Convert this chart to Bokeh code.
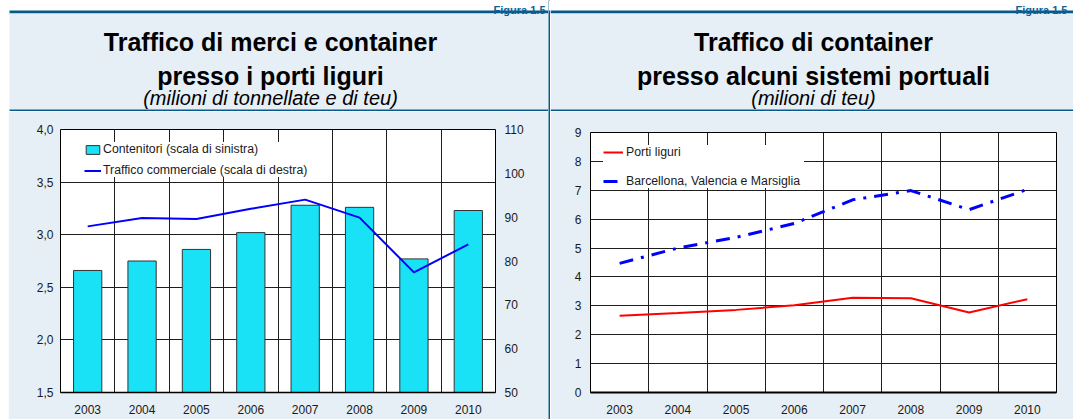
from bokeh.plotting import figure
from bokeh.layouts import row, column
from bokeh.models import (Range1d, LinearAxis, FixedTicker, CustomJSTickFormatter,
                          Legend, LegendItem, Spacer)
from bokeh.embed import file_html
from bokeh.resources import INLINE
from bokeh.core.properties import value

# ---------------- data ----------------
years = [2003, 2004, 2005, 2006, 2007, 2008, 2009, 2010]
year_labels = ["2003", "2004", "2005", "2006", "2007", "2008", "2009", "2010"]

contenitori = [2.66, 2.75, 2.86, 3.02, 3.28, 3.26, 2.77, 3.23]          # left scale
traffico_commerciale = [87.9, 89.8, 89.6, 91.9, 94.0, 89.9, 77.4, 83.8]  # right scale

porti_liguri = [2.66, 2.75, 2.86, 3.02, 3.28, 3.26, 2.77, 3.23]
barcellona_valencia_marsiglia = [4.47, 5.00, 5.37, 5.85, 6.67, 6.99, 6.33, 7.03]

left_ticks = [1.5, 2.0, 2.5, 3.0, 3.5, 4.0]
left_tick_labels = ["1,5", "2,0", "2,5", "3,0", "3,5", "4,0"]
right_ticks = [50, 60, 70, 80, 90, 100, 110]
right_tick_labels = ["50", "60", "70", "80", "90", "100", "110"]
r_ticks = [0, 1, 2, 3, 4, 5, 6, 7, 8, 9]
r_tick_labels = ["0", "1", "2", "3", "4", "5", "6", "7", "8", "9"]

figura = "Figura 1.5"
title_left = ["Traffico di merci e container", "presso i porti liguri"]
sub_left = "(milioni di tonnellate e di teu)"
title_right = ["Traffico di container", "presso alcuni sistemi portuali"]
sub_right = "(milioni di teu)"

leg_left = ["Contenitori (scala di sinistra)", "Traffico commerciale (scala di destra)"]
leg_right = ["Porti liguri", "Barcellona, Valencia e Marsiglia"]

# ---------------- style ----------------
FONT = "Liberation Sans"
LIGHT = "#e6eef6"
DARK = "#07598a"
FIGC = "#0f6192"
CYAN = "#19e1f6"
GRID = "#1e1e1e"
TXT = "#1a1a1a"

LW, RW = 540, 523
HEAD_H, CHART_H = 111, 308


def no_align(p):
    if "frame_align" in p.properties():
        p.frame_align = False


def fmt(vals, labs):
    return CustomJSTickFormatter(args=dict(vals=list(vals), labs=list(labs)), code="""
        for (let i = 0; i < vals.length; i++) {
            if (Math.abs(vals[i] - tick) < 1e-9) { return labs[i]; }
        }
        return '';
    """)


def header(width, lines, sub, cx, x0, fig_x, fig_align):
    h = figure(width=width, height=HEAD_H, x_range=Range1d(0, width), y_range=Range1d(HEAD_H, 0),
               min_border=0, toolbar_location=None, output_backend="svg",
               x_axis_type=None, y_axis_type=None, outline_line_color=None)
    no_align(h)
    h.background_fill_color = "white"
    h.border_fill_color = "white"
    h.grid.visible = False
    h.quad(left=x0, right=width, top=10, bottom=13, fill_color=DARK, line_color=None)
    h.quad(left=x0, right=width, top=13, bottom=109, fill_color=LIGHT, line_color=None)
    h.quad(left=x0, right=width, top=109, bottom=111, fill_color=DARK, line_color=None)
    h.text(x=[fig_x], y=[9], text=[figura], text_font=value(FONT), text_font_style="bold",
           text_font_size="11px", text_align=fig_align, text_baseline="alphabetic", text_color=FIGC)
    h.text(x=[cx, cx], y=[41, 75], text=lines, text_font=value(FONT), text_font_style="bold",
           text_font_size="25px", text_align="center", text_baseline="alphabetic", text_color="black")
    h.text(x=[cx], y=[97], text=[sub], text_font=value(FONT), text_font_style="italic",
           text_font_size="20px", text_align="center", text_baseline="alphabetic", text_color="black")
    return h


def style_chart(p):
    no_align(p)
    p.background_fill_color = "white"
    p.border_fill_color = LIGHT
    p.outline_line_color = "black"
    p.outline_line_width = 1
    for ax in p.axis:
        ax.major_tick_in = 0
        ax.major_tick_out = 0
        ax.minor_tick_in = 0
        ax.minor_tick_out = 0
        ax.major_label_text_font = FONT
        ax.major_label_text_font_size = "12px"
        ax.major_label_text_color = TXT
    for g in p.grid:
        g.grid_line_color = GRID
        g.grid_line_width = 1


# ---------------- left chart ----------------
lc = figure(width=LW, height=CHART_H, x_range=Range1d(2002.5, 2010.5), y_range=Range1d(1.5, 4.0),
            min_border_left=52, min_border_right=53, min_border_top=18, min_border_bottom=27,
            toolbar_location=None, output_backend="svg")
lc.extra_y_ranges = {"right": Range1d(50, 110)}
rax = LinearAxis(y_range_name="right", ticker=FixedTicker(ticks=right_ticks),
                 formatter=fmt(right_ticks, right_tick_labels))
lc.add_layout(rax, "right")
lc.xaxis.ticker = FixedTicker(ticks=years)
lc.xaxis.formatter = fmt(years, year_labels)
lc.yaxis[0].ticker = FixedTicker(ticks=left_ticks)
lc.yaxis[0].formatter = fmt(left_ticks, left_tick_labels)
lc.xgrid.ticker = FixedTicker(ticks=[y + 0.5 for y in years[:-1]])
lc.ygrid.ticker = FixedTicker(ticks=left_ticks)
style_chart(lc)
lc.yaxis[0].major_label_standoff = 7
rax.major_label_standoff = 9
lc.xaxis.major_label_standoff = 12
lc.yaxis.axis_line_color = None
lc.xaxis.axis_line_color = "black"
lc.xaxis.axis_line_width = 1.5

bars = lc.vbar(x=years, top=contenitori, bottom=1.5, width=0.52, fill_color=CYAN,
               line_color="#333333", line_width=1)
tline = lc.line(years, traffico_commerciale, y_range_name="right", line_color="#0000ff", line_width=2)

legL = Legend(items=[LegendItem(label=leg_left[0], renderers=[bars]),
                     LegendItem(label=leg_left[1], renderers=[tline])],
              location=(24, 215), padding=6, spacing=7, glyph_width=17, glyph_height=11,
              label_height=14, label_width=223, label_standoff=2, margin=0,
              label_text_font=FONT, label_text_font_size="12.3px", label_text_color=TXT,
              background_fill_color="white", background_fill_alpha=1, border_line_color=None)
lc.add_layout(legL)

# ---------------- right chart ----------------
rc = figure(width=RW, height=CHART_H, x_range=Range1d(2002.5, 2010.5), y_range=Range1d(0, 9),
            min_border_left=40, min_border_right=17, min_border_top=21, min_border_bottom=27,
            toolbar_location=None, output_backend="svg")
rc.xaxis.ticker = FixedTicker(ticks=years)
rc.xaxis.formatter = fmt(years, year_labels)
rc.yaxis.ticker = FixedTicker(ticks=r_ticks)
rc.yaxis.formatter = fmt(r_ticks, r_tick_labels)
rc.xgrid.ticker = FixedTicker(ticks=[y + 0.5 for y in years[:-1]])
rc.ygrid.ticker = FixedTicker(ticks=r_ticks)
style_chart(rc)
rc.yaxis.major_label_standoff = 9
rc.xaxis.major_label_standoff = 12
rc.yaxis.axis_line_color = None
rc.xaxis.axis_line_color = "black"
rc.xaxis.axis_line_width = 2

l_red = rc.line(years, porti_liguri, line_color="#ff0000", line_width=2)
l_blue = rc.line(years, barcellona_valencia_marsiglia, line_color="#0000ff", line_width=3,
                 line_dash="14 8 3 8")

legR = Legend(items=[LegendItem(label=leg_right[0], renderers=[l_red]),
                     LegendItem(label=leg_right[1], renderers=[l_blue])],
              location=(13, 204), padding=7, spacing=15, glyph_width=20, glyph_height=14,
              label_height=14, label_width=178, label_standoff=3, margin=0,
              label_text_font=FONT, label_text_font_size="12.3px", label_text_color=TXT,
              background_fill_color="white", background_fill_alpha=1, border_line_color=None)
rc.add_layout(legR)

# ---------------- frame pieces ----------------
hl = header(LW, title_left, sub_left, 262, 1, 537, "right")
hr = header(RW, title_right, sub_right, 263, 0, 465, "left")

div = figure(width=2, height=HEAD_H + CHART_H, x_range=Range1d(0, 1), y_range=Range1d(HEAD_H + CHART_H, 0),
             min_border=0, toolbar_location=None, output_backend="svg",
             x_axis_type=None, y_axis_type=None, outline_line_color=None)
no_align(div)
div.background_fill_color = DARK
div.border_fill_color = DARK
div.grid.visible = False
div.quad(left=0, right=1, top=0, bottom=10, fill_color="white", line_color=None)

layout = row(Spacer(width=8, height=HEAD_H + CHART_H), column(hl, lc), div, column(hr, rc))

open("out.html", "w").write(file_html(layout, INLINE))
